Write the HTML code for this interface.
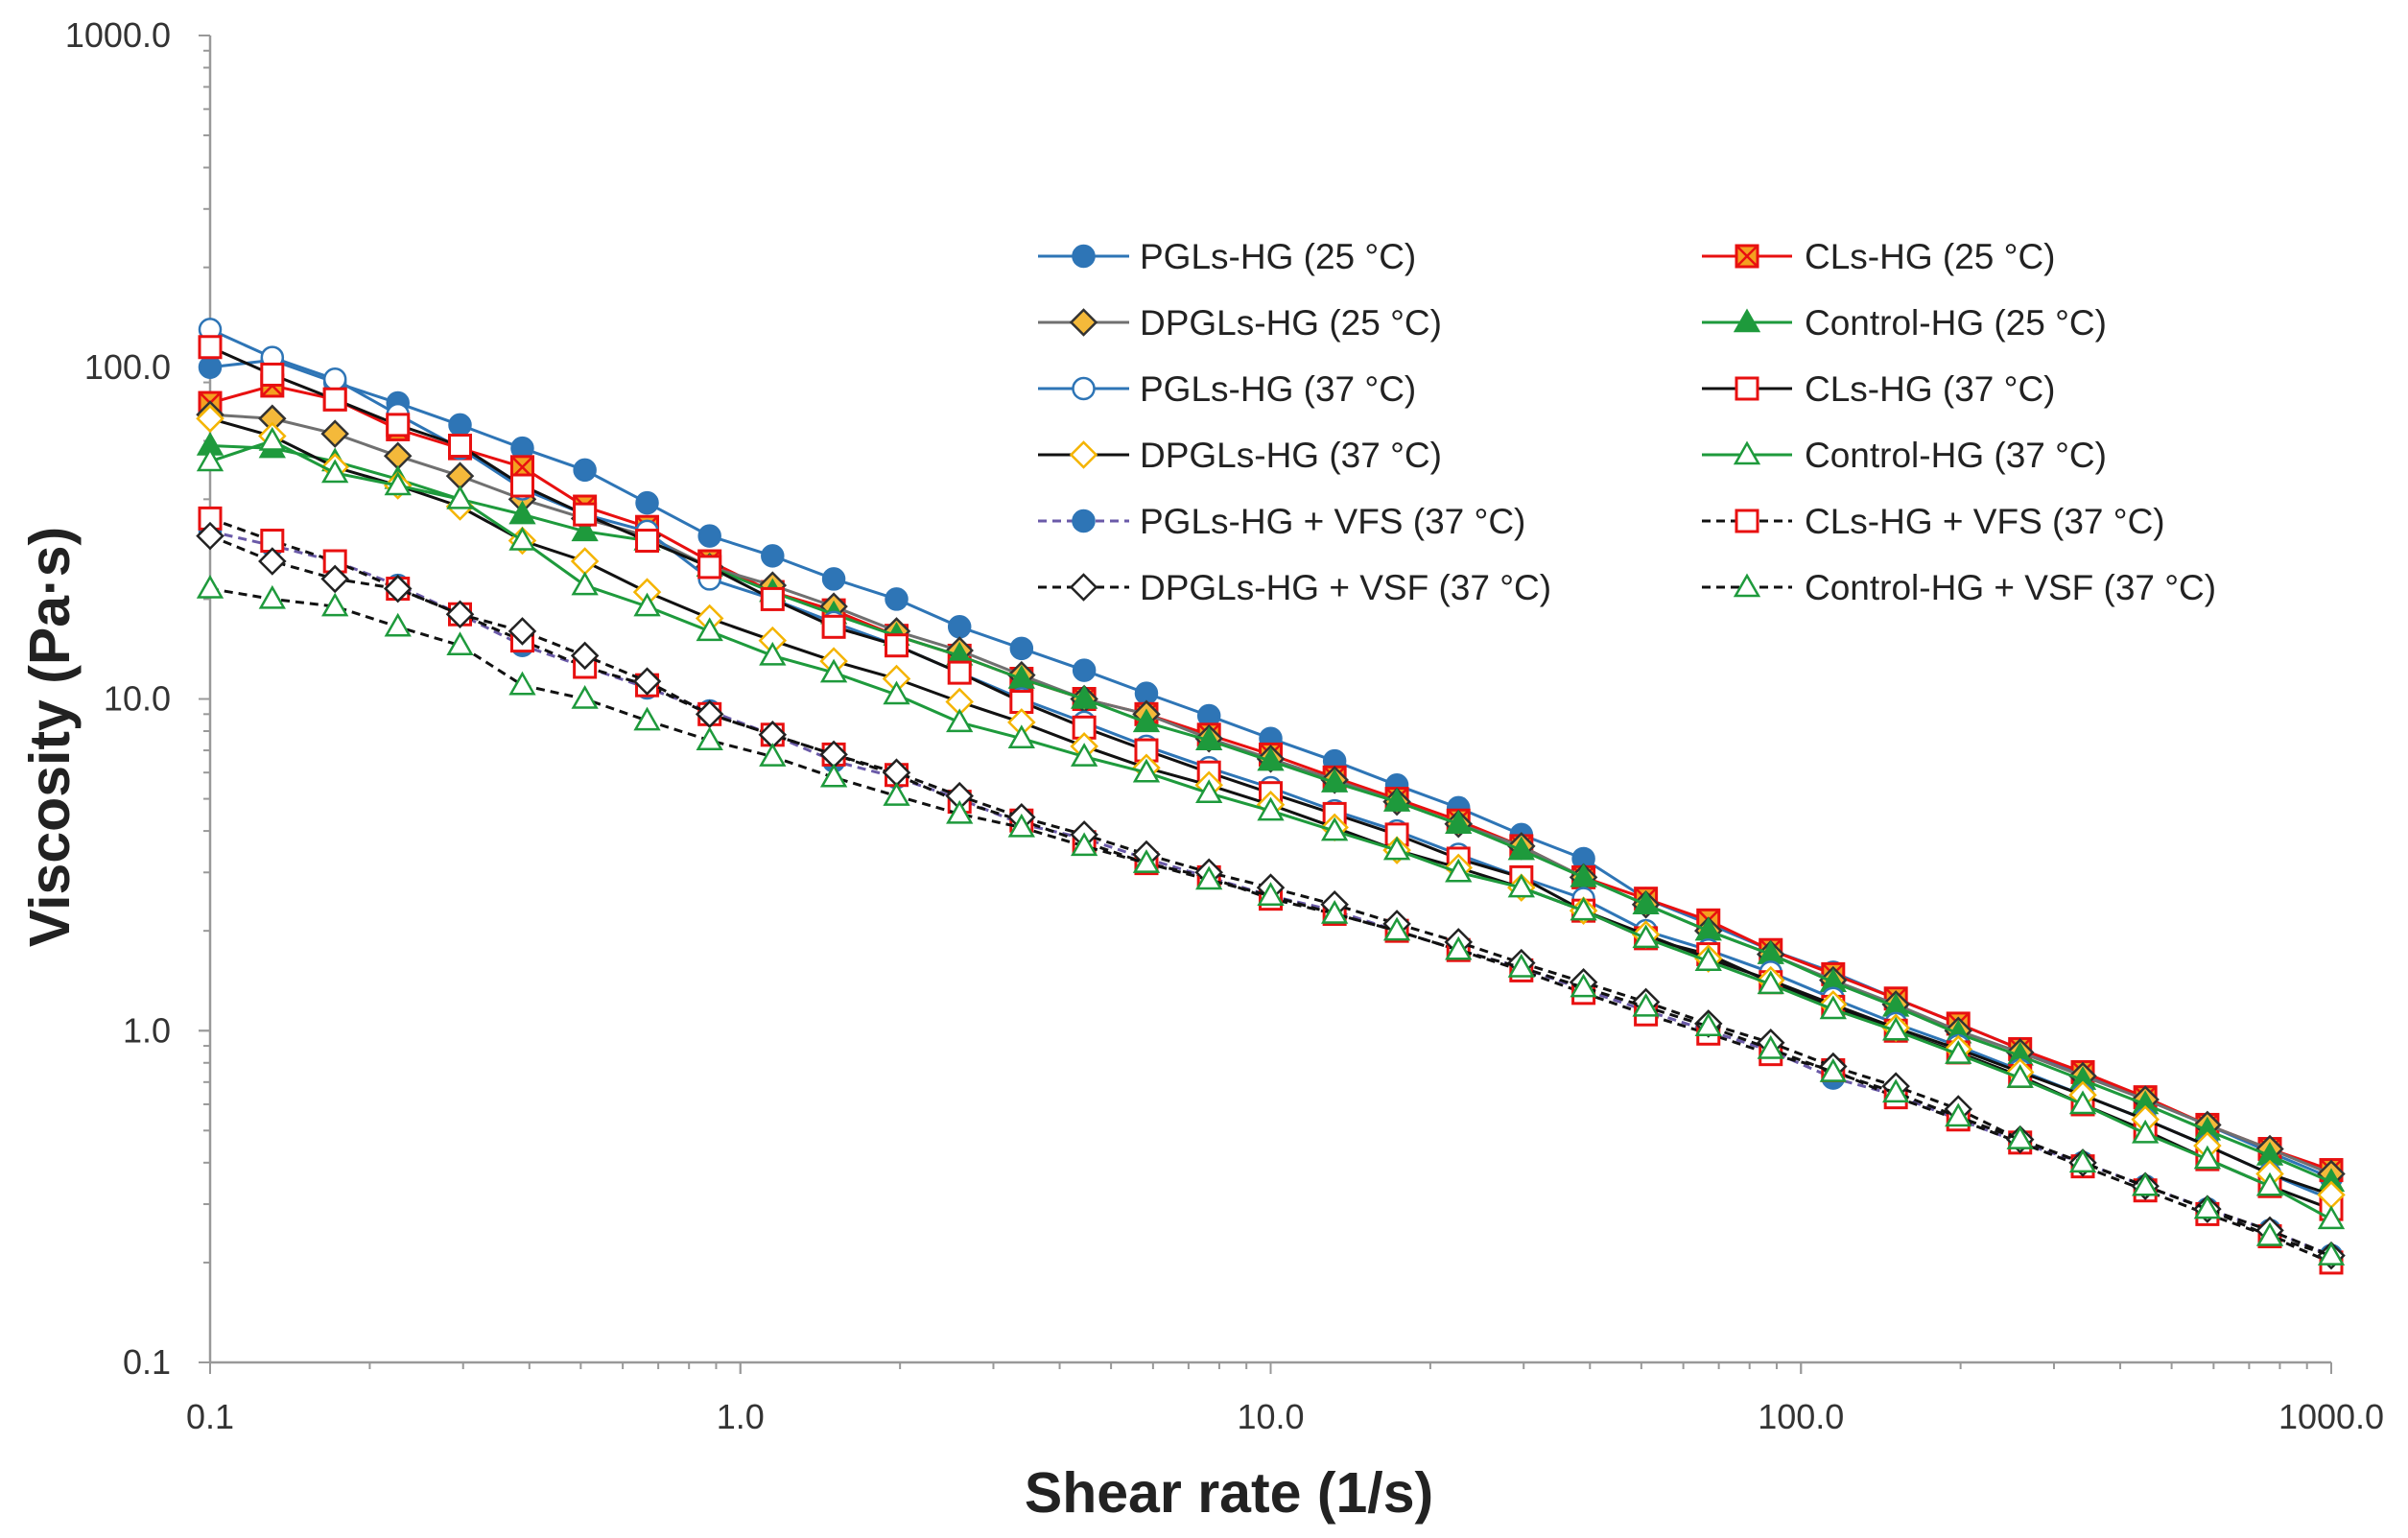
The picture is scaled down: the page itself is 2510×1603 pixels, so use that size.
<!DOCTYPE html>
<html><head><meta charset="utf-8"><style>
html,body{margin:0;padding:0;background:#fff;}
svg{display:block;font-family:"Liberation Sans",sans-serif;}
</style></head><body>
<svg id="chart" width="2510" height="1603" viewBox="0 0 2510 1603" xmlns="http://www.w3.org/2000/svg">
<rect width="2510" height="1603" fill="#fff"/>
<g id="axes"></g>
<g id="series"></g>
<g id="legend"></g>
<text x="1281" y="1576" font-size="59" font-weight="bold" text-anchor="middle" fill="#222">Shear rate (1/s)</text>
<text transform="translate(72,768) rotate(-90)" font-size="59" font-weight="bold" text-anchor="middle" fill="#222">Viscosity (Pa·s)</text>
</svg>
<script>
const xTickLabels = ["0.1","1.0","10.0","100.0","1000.0"];
const yTickLabels = ["0.1","1.0","10.0","100.0","1000.0"];
const seriesNames = ["PGLs-HG (25 °C)","CLs-HG (25 °C)","DPGLs-HG (25 °C)","Control-HG (25 °C)","PGLs-HG (37 °C)","CLs-HG (37 °C)","DPGLs-HG (37 °C)","Control-HG (37 °C)","PGLs-HG + VFS (37 °C)","CLs-HG + VFS (37 °C)","DPGLs-HG + VSF (37 °C)","Control-HG + VSF (37 °C)"];
const shearRates = [0.1,0.131,0.172,0.226,0.296,0.388,0.509,0.667,0.875,1.15,1.5,1.97,2.59,3.39,4.45,5.83,7.65,10.0,13.2,17.3,22.6,29.7,38.9,51.0,66.9,87.7,115,151,198,259,340,446,584,766,1000];
const pgls25 = [100,105,90,78,67,57,49,39,31,27,23,20,16.5,14.2,12.2,10.4,8.9,7.6,6.5,5.5,4.7,3.9,3.3,2.5,2.1,1.75,1.5,1.25,1.05,0.88,0.74,0.62,0.52,0.43,0.36];
const cls25 = [78,88,80,65,57,50,38,33,26,21,18.5,15.5,13.5,11.5,10,9,7.8,6.8,5.8,5,4.3,3.6,2.9,2.5,2.15,1.75,1.48,1.25,1.05,0.88,0.75,0.63,0.52,0.44,0.38];
const dpgls25 = [72,70,63,54,47,40,35,31,25,22,19,16,14,11.8,10,9,7.6,6.6,5.7,4.9,4.2,3.6,2.9,2.4,2.0,1.7,1.42,1.2,1.0,0.86,0.73,0.62,0.52,0.44,0.37];
const control25 = [58,57,52,46,40,36,32,30,25,21,18,15.5,13.5,11.5,10,8.5,7.5,6.5,5.6,4.9,4.2,3.5,2.9,2.4,2.0,1.7,1.4,1.18,0.98,0.84,0.71,0.6,0.5,0.42,0.35];
const pgls37 = [130,107,92,72,57,43,36,32,23,20,17,14.5,12,10,8.5,7.2,6.2,5.4,4.6,4,3.4,2.9,2.5,2,1.75,1.5,1.25,1.05,0.9,0.76,0.64,0.54,0.45,0.37,0.31];
const cls37 = [115,95,80,67,58,44,36,30,25,20,16.5,14.5,12,9.8,8.2,7,6,5.2,4.5,3.9,3.3,2.9,2.3,1.9,1.7,1.4,1.18,1.0,0.86,0.73,0.6,0.5,0.41,0.34,0.29];
const dpgls37 = [70,62,50,44,38,30,26,21,17.5,15,13,11.5,9.8,8.5,7.2,6.2,5.5,4.8,4.1,3.5,3.1,2.7,2.3,1.95,1.65,1.42,1.2,1.02,0.88,0.75,0.64,0.54,0.45,0.37,0.32];
const control37 = [52,60,48,44,40,30,22,19,16,13.5,12,10.3,8.5,7.6,6.7,6,5.2,4.6,4.0,3.5,3.0,2.7,2.3,1.9,1.62,1.38,1.16,1.0,0.85,0.72,0.6,0.49,0.41,0.34,0.27];
const pglsVfs = [32,29,26,22,18,14.5,12.5,10.8,9.2,7.8,6.5,5.8,5,4.2,3.8,3.3,2.9,2.55,2.3,2.0,1.75,1.55,1.33,1.15,1.0,0.87,0.72,0.64,0.54,0.46,0.4,0.34,0.29,0.25,0.21];
const clsVfs = [35,30,26,21.5,18,15,12.5,11,9,7.8,6.8,5.9,4.9,4.3,3.7,3.2,2.9,2.5,2.25,2.0,1.75,1.52,1.3,1.12,0.98,0.85,0.76,0.63,0.54,0.46,0.39,0.33,0.28,0.24,0.2];
const dpglsVsf = [31,26,23,21.5,18,16,13.5,11.3,9,7.8,6.8,6,5.1,4.4,3.9,3.4,3.0,2.7,2.4,2.1,1.85,1.6,1.4,1.22,1.05,0.92,0.78,0.68,0.58,0.47,0.4,0.34,0.29,0.25,0.21];
const controlVsf = [21.5,20,19,16.5,14.5,11,10,8.6,7.5,6.7,5.8,5.1,4.5,4.1,3.6,3.2,2.85,2.55,2.25,2.0,1.75,1.55,1.35,1.18,1.03,0.88,0.75,0.65,0.55,0.47,0.4,0.34,0.29,0.24,0.21];

const NS="http://www.w3.org/2000/svg";
const L=219,R=2430,T=37,B=1420;
function xs(v){return L+(Math.log10(v)+1)/4*(R-L);}
function ys(v){return B-(Math.log10(v)+1)/4*(B-T);}
function mk(tag,attrs,parent){const e=document.createElementNS(NS,tag);for(const k in attrs)e.setAttribute(k,attrs[k]);parent.appendChild(e);return e;}

const axes=document.getElementById('axes');
const xl=mk('line',{x1:L,y1:B,x2:R,y2:B,stroke:'#999','stroke-width':2.5},axes);


const yl=mk('line',{x1:L,y1:T,x2:L,y2:B,stroke:'#999','stroke-width':2.5},axes);


for(let d=0;d<4;d++){for(let m=1;m<=10;m++){
  const v=Math.pow(10,d-1)*m;
  const big=(m===1||m===10);
  mk('line',{x1:xs(v),y1:B,x2:xs(v),y2:B+(big?12:7),stroke:'#999','stroke-width':2},axes);
  mk('line',{x1:L,y1:ys(v),x2:L-(big?12:7),y2:ys(v),stroke:'#999','stroke-width':2},axes);
}}
xTickLabels.forEach((t,i)=>{
  const e=mk('text',{x:xs(Math.pow(10,i-1)),y:1489,'font-size':36,'text-anchor':'middle',fill:'#333'},axes);
  e.textContent=t;
  
  
});
yTickLabels.forEach((t,i)=>{
  const e=mk('text',{x:178,y:ys(Math.pow(10,i-1))+12,'font-size':36,'text-anchor':'end',fill:'#333'},axes);
  e.textContent=t;
  
  
});

const styles=[
 {d:pgls25,line:'#2e75b6',dash:null,m:'circle',f:'#2e75b6',s:'#2e75b6'},
 {d:cls25,line:'#e81010',dash:null,m:'xsquare',f:'#f4a020',s:'#e81010'},
 {d:dpgls25,line:'#707070',dash:null,m:'diamond',f:'#f4b93a',s:'#333'},
 {d:control25,line:'#1e9a3c',dash:null,m:'triangle',f:'#1e9a3c',s:'#1e9a3c'},
 {d:pgls37,line:'#2e75b6',dash:null,m:'circle',f:'#fff',s:'#2e75b6'},
 {d:cls37,line:'#111',dash:null,m:'square',f:'#fff',s:'#e81010'},
 {d:dpgls37,line:'#111',dash:null,m:'diamond',f:'#fff',s:'#f4b400'},
 {d:control37,line:'#1e9a3c',dash:null,m:'triangle',f:'#fff',s:'#1e9a3c'},
 {d:pglsVfs,line:'#6a5aa8',dash:'9,6',m:'circle',f:'#2e75b6',s:'#2e75b6'},
 {d:clsVfs,line:'#111',dash:'9,6',m:'square',f:'#fff',s:'#e81010'},
 {d:dpglsVsf,line:'#111',dash:'9,6',m:'diamond',f:'#fff',s:'#222'},
 {d:controlVsf,line:'#111',dash:'9,6',m:'triangle',f:'#fff',s:'#1e9a3c'}
];
const slugs=['pgls-hg-25','cls-hg-25','dpgls-hg-25','control-hg-25','pgls-hg-37','cls-hg-37','dpgls-hg-37','control-hg-37','pgls-hg-vfs-37','cls-hg-vfs-37','dpgls-hg-vsf-37','control-hg-vsf-37'];
function marker(type,x,y,f,s,g){
  const r=11;let e;
  if(type==='circle')e=mk('circle',{cx:x,cy:y,r:r,fill:f,stroke:s,'stroke-width':2.5},g);
  else if(type==='square'||type==='xsquare'){e=mk('rect',{x:x-r,y:y-r,width:2*r,height:2*r,fill:f,stroke:s,'stroke-width':3},g);
    if(type==='xsquare'){mk('path',{d:`M${x-r} ${y-r}L${x+r} ${y+r}M${x+r} ${y-r}L${x-r} ${y+r}`,stroke:s,'stroke-width':2.5},g);}}
  else if(type==='diamond')e=mk('polygon',{points:`${x},${y-13} ${x+13},${y} ${x},${y+13} ${x-13},${y}`,fill:f,stroke:s,'stroke-width':2.5},g);
  else e=mk('polygon',{points:`${x},${y-12} ${x+12},${y+9} ${x-12},${y+9}`,fill:f,stroke:s,'stroke-width':2.5},g);
  return e;
}
const sg=document.getElementById('series');
styles.forEach((st,i)=>{
  const g=mk('g',{},sg);
  
  
  const pts=st.d.map((v,j)=>xs(shearRates[j]).toFixed(1)+','+ys(v).toFixed(1)).join(' ');
  const pl=mk('polyline',{points:pts,fill:'none',stroke:st.line,'stroke-width':3},g);
  if(st.dash)pl.setAttribute('stroke-dasharray',st.dash);
  
  
  st.d.forEach((v,j)=>{
    const m=marker(st.m,xs(shearRates[j]),ys(v),st.f,st.s,g);
    
    
  });
});
const lg=document.getElementById('legend');
const rowsY=[267,336,405,474,543,612];
const cols=[{x1:1082,x2:1177,tx:1188},{x1:1774,x2:1868,tx:1881}];
styles.forEach((st,i)=>{
  const c=cols[i%2],y=rowsY[Math.floor(i/2)];
  const g=mk('g',{},lg);
  
  
  const ln=mk('line',{x1:c.x1,y1:y,x2:c.x2,y2:y,stroke:st.line,'stroke-width':3},g);
  if(st.dash)ln.setAttribute('stroke-dasharray',st.dash);
  marker(st.m,(c.x1+c.x2)/2,y,st.f,st.s,g);
  const t=mk('text',{x:c.tx,y:y+13,'font-size':37,fill:'#222'},g);
  t.textContent=seriesNames[i];
});
</script>
</body></html>
